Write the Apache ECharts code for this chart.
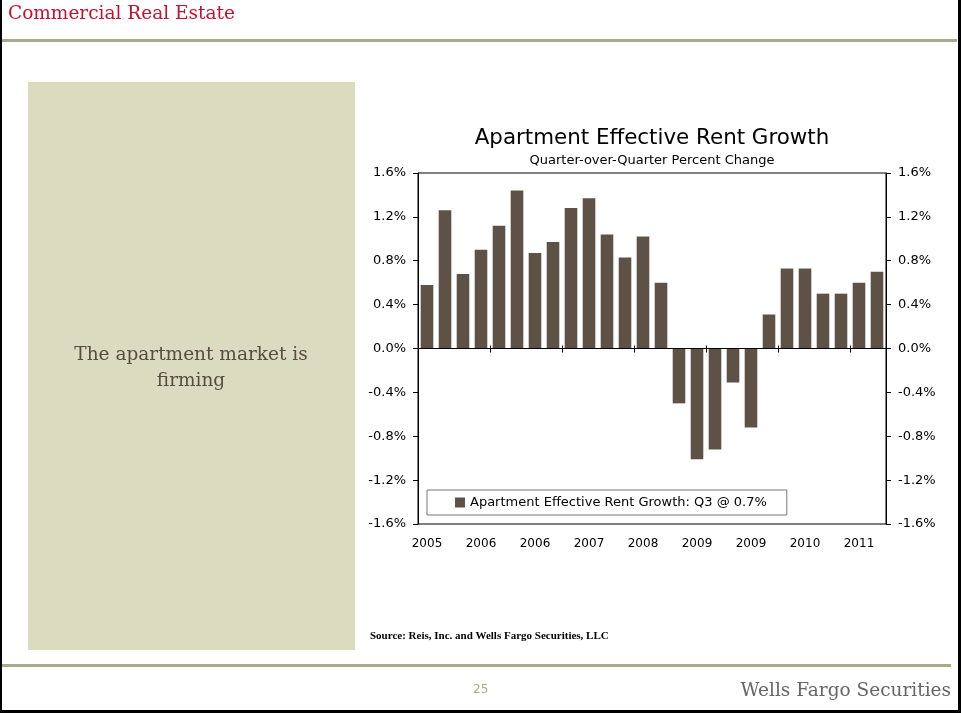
<!DOCTYPE html>
<html>
<head>
<meta charset="utf-8">
<title>Apartment Effective Rent Growth</title>
<script src="https://cdn.jsdelivr.net/npm/echarts@6/dist/echarts.min.js"></script>
<style>
  html, body { margin: 0; padding: 0; background: #fff; }
  #chart { width: 961px; height: 713px; }
</style>
</head>
<body>
<div id="chart"></div>
<script>
// Quarterly apartment effective rent growth, 2005 Q2 – 2011 Q3 (q/q % change)
const quarters = [
  '2005 Q2', '2005 Q3', '2005 Q4',
  '2006 Q1', '2006 Q2', '2006 Q3', '2006 Q4',
  '2007 Q1', '2007 Q2', '2007 Q3', '2007 Q4',
  '2008 Q1', '2008 Q2', '2008 Q3', '2008 Q4',
  '2009 Q1', '2009 Q2', '2009 Q3', '2009 Q4',
  '2010 Q1', '2010 Q2', '2010 Q3', '2010 Q4',
  '2011 Q1', '2011 Q2', '2011 Q3'
];
const rentGrowth = [
  0.58, 1.26, 0.68, 0.90,
  1.12, 1.44, 0.87, 0.97,
  1.28, 1.37, 1.04, 0.83,
  1.02, 0.60, -0.50, -1.01,
  -0.92, -0.31, -0.72, 0.31,
  0.73, 0.73, 0.50, 0.50,
  0.60, 0.70
];
const seriesName = 'Apartment Effective Rent Growth: Q3 @ 0.7%';
const chartTitle = 'Apartment Effective Rent Growth';
const chartSubtitle = 'Quarter-over-Quarter Percent Change';
const yTicks = { min: -1.6, max: 1.6, step: 0.4 };

const sans = '"DejaVu Sans", Verdana, sans-serif';
const serif = '"DejaVu Serif", Georgia, serif';
const olive = '#a8aa88';

const chart = echarts.init(document.getElementById('chart'), null, { renderer: 'canvas' });

const pctLabel = v => v.toFixed(1) + '%';

const yAxisBase = {
  type: 'value',
  min: yTicks.min,
  max: yTicks.max,
  interval: yTicks.step,
  splitLine: { show: false },
  axisLine: { show: true, lineStyle: { color: '#000', width: 1 } },
  axisTick: { show: true, length: 5, lineStyle: { color: '#000' } },
  axisLabel: { formatter: pctLabel, color: '#000', fontFamily: sans, fontSize: 13, margin: 12 }
};

chart.setOption({
  animation: false,
  backgroundColor: '#fff',
  title: [
    {
      text: chartTitle,
      left: 647, top: 123, textAlign: 'center',
      textStyle: { fontFamily: sans, fontSize: 21.4, fontWeight: 'normal', color: '#000' }
    },
    {
      text: chartSubtitle,
      left: 647, top: 149, textAlign: 'center',
      textStyle: { fontFamily: sans, fontSize: 13, fontWeight: 'normal', color: '#000' }
    }
  ],
  legend: {
    data: [seriesName],
    left: 427, top: 490,
    padding: [6, 20, 6, 28],
    backgroundColor: '#fff',
    borderColor: '#777', borderWidth: 1,
    icon: 'rect', itemWidth: 10, itemHeight: 10,
    textStyle: { fontFamily: sans, fontSize: 13, color: '#000' },
    selectedMode: false
  },
  grid: {
    left: 418, right: 75, top: 173, bottom: 189,
    show: true, borderColor: '#000', borderWidth: 1, backgroundColor: 'transparent'
  },
  xAxis: [
    {
      type: 'category',
      data: quarters,
      position: 'bottom',
      axisLine: { show: true, lineStyle: { color: '#000' } },
      axisTick: { show: true, interval: 3, alignWithLabel: false, length: 4, lineStyle: { color: '#000' } },
      axisLabel: {
        interval: 2,
        formatter: v => v.slice(0, 4),
        color: '#000', fontFamily: sans, fontSize: 12, margin: 14
      }
    },
    {
      // inner half of the crossing ticks on the date axis
      type: 'category',
      data: quarters,
      position: 'bottom',
      axisLine: { show: false },
      axisTick: { show: true, inside: true, interval: 3, alignWithLabel: false, length: 3, lineStyle: { color: '#000' } },
      axisLabel: { show: false }
    }
  ],
  yAxis: [
    Object.assign({}, yAxisBase, { position: 'left' }),
    Object.assign({}, yAxisBase, { position: 'right' })
  ],
  series: [
    {
      name: seriesName,
      type: 'bar',
      data: rentGrowth,
      xAxisIndex: 0,
      yAxisIndex: 0,
      barCategoryGap: '30%',
      itemStyle: { color: '#5e5246' },
      markLine: {
        silent: true,
        symbol: 'none',
        label: { show: false },
        lineStyle: { color: '#000', width: 1, type: 'solid' },
        data: [{ yAxis: 0 }]
      }
    }
  ],
  graphic: [
    // page frame
    { type: 'rect', left: 0, top: 0, shape: { width: 2, height: 713 }, style: { fill: '#000' }, silent: true },
    { type: 'rect', left: 958, top: 0, shape: { width: 3, height: 713 }, style: { fill: '#000' }, silent: true },
    { type: 'rect', left: 0, top: 710, shape: { width: 961, height: 3 }, style: { fill: '#000' }, silent: true },
    // header
    {
      type: 'text', left: 8, top: 5,
      style: { text: 'Commercial Real Estate', fill: '#c8102e', font: '18.5px ' + serif }
    },
    { type: 'rect', left: 2, top: 39, shape: { width: 955, height: 3 }, style: { fill: olive }, silent: true },
    // side panel
    { type: 'rect', left: 28, top: 82, z: -1, shape: { width: 327, height: 568 }, style: { fill: '#dadbbf' }, silent: true },
    {
      type: 'text', x: 191, y: 342,
      style: {
        text: 'The apartment market is\nfirming',
        fill: '#584c41', font: '18.5px ' + serif, align: 'center', lineHeight: 26
      }
    },
    // source note
    {
      type: 'text', left: 370, top: 631,
      style: { text: 'Source: Reis, Inc. and Wells Fargo Securities, LLC', fill: '#000', font: 'bold 11px "Liberation Serif", serif' }
    },
    // footer
    { type: 'rect', left: 2, top: 664, shape: { width: 949, height: 3 }, style: { fill: olive }, silent: true },
    {
      type: 'text', left: 473, top: 684,
      style: { text: '25', fill: olive, font: '12px ' + sans }
    },
    {
      type: 'text', right: 10, top: 682,
      style: { text: 'Wells Fargo Securities', fill: '#666', font: '18.5px ' + serif }
    }
  ]
});
</script>
</body>
</html>
